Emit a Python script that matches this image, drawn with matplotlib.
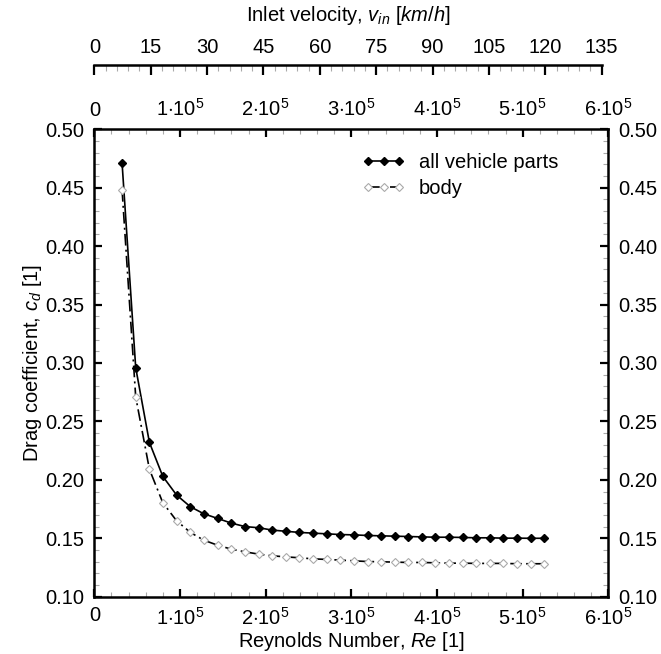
import matplotlib
matplotlib.use("Agg")
import matplotlib.pyplot as plt
from matplotlib.ticker import MultipleLocator, FuncFormatter

plt.rcParams['font.family'] = ['Liberation Sans', 'DejaVu Sans']
plt.rcParams['mathtext.fontset'] = 'custom'
plt.rcParams['mathtext.rm'] = 'Liberation Sans'
plt.rcParams['mathtext.it'] = 'Liberation Sans:italic'
plt.rcParams['font.size'] = 14.5

# Reynolds numbers of the computed cases
re = [32400, 48300, 64300, 79900, 96000, 112100, 127700, 143800, 159800, 175900,
      192000, 207600, 223300, 239400, 255400, 271100, 287200, 302800, 318900, 334500,
      350600, 366300, 382300, 398000, 414100, 430100, 445800, 461900, 477500, 493600,
      509600, 525300]

cd_all = [0.471, 0.296, 0.232, 0.203, 0.187, 0.177, 0.171, 0.167, 0.163, 0.160,
          0.159, 0.157, 0.156, 0.155, 0.1544, 0.1538, 0.1532, 0.1529, 0.1524, 0.1521,
          0.1518, 0.1515, 0.1512, 0.1509, 0.1509, 0.1507, 0.1504, 0.1504, 0.1501, 0.1501,
          0.150, 0.150]

cd_body = [0.448, 0.271, 0.209, 0.1805, 0.165, 0.155, 0.1484, 0.1441, 0.1407, 0.1384,
           0.1364, 0.1350, 0.1341, 0.1333, 0.1324, 0.1319, 0.1313, 0.1307, 0.1301, 0.1299,
           0.1296, 0.1293, 0.1293, 0.1290, 0.1287, 0.1287, 0.1285, 0.1285, 0.1285, 0.1282,
           0.1282, 0.1282]

re_per_kmh = 4387.0  # Re per km/h for the top axis
vin_max = 135


def sci(v, pos):
    if v == 0:
        return "0"
    return r"%d$\cdot$10$^5$" % round(v / 1e5)


fig = plt.figure(figsize=(6.61, 6.54), dpi=100)
L, B, W, H = 0.1427, 0.0876, 0.7776, 0.7148
ax = fig.add_axes([L, B, W, H])

ax.plot(re, cd_all, '-', color='black', lw=1.2, marker='D', ms=4,
        mfc='black', mec='black', label='all vehicle parts')
ax.plot(re, cd_body, color='black', lw=1.2, dashes=[7, 2.5, 1.2, 2.5],
        marker='D', ms=4.5, mfc='white', mec='#aaaaaa', mew=0.8, label='body')

ax.set_xlim(0, 6e5)
ax.set_ylim(0.10, 0.50)
ax.xaxis.set_major_locator(MultipleLocator(1e5))
ax.xaxis.set_minor_locator(MultipleLocator(2e4))
ax.yaxis.set_major_locator(MultipleLocator(0.05))
ax.yaxis.set_minor_locator(MultipleLocator(0.01))
ax.xaxis.set_major_formatter(FuncFormatter(sci))
ax.yaxis.set_major_formatter(FuncFormatter(lambda v, p: "%.2f" % v))

for s in ax.spines.values():
    s.set_linewidth(1.8)
ax.tick_params(which='both', direction='in', top=True, right=True,
               labeltop=True, labelright=True)
ax.tick_params(axis='x', which='major', length=6, width=1.6, pad=7)
ax.tick_params(axis='y', which='major', length=6, width=1.6, pad=7)
ax.tick_params(which='minor', length=3.5, width=0.8, color='#aaaaaa')

ax.set_xlabel(r"Reynolds Number, $\mathit{Re}$ [$\mathit{1}$]", labelpad=1)
ax.set_ylabel(r"Drag coefficient, $\mathit{c_d}$ [$\mathit{1}$]", labelpad=1)

ax.legend(loc='upper left', bbox_to_anchor=(0.521, 0.95), frameon=False,
          numpoints=3, handlelength=2.15, handletextpad=0.65, labelspacing=0.35,
          borderpad=0, borderaxespad=0, fontsize=14.5)

# velocity axis on top
line_y = 1 - 65 / 654
ax2 = fig.add_axes([L, line_y - 0.05, vin_max * re_per_kmh / 6e5 * W, 0.05])
ax2.set_xlim(0, vin_max)
ax2.patch.set_visible(False)
for k in ['left', 'right', 'bottom']:
    ax2.spines[k].set_visible(False)
ax2.spines['top'].set_linewidth(1.8)
ax2.set_yticks([])
ax2.xaxis.set_ticks_position('top')
ax2.xaxis.set_label_position('top')
ax2.xaxis.set_major_locator(MultipleLocator(15))
ax2.xaxis.set_minor_locator(MultipleLocator(3))
ax2.tick_params(which='both', direction='in')
ax2.tick_params(which='major', length=7, width=1.6, pad=6)
ax2.tick_params(which='minor', length=4, width=0.8, color='#aaaaaa')
ax2.set_xlabel(r"Inlet velocity, $v_{in}$ [$\mathit{km/h}$]", labelpad=12)

fig.savefig("out.png", dpi=100)
